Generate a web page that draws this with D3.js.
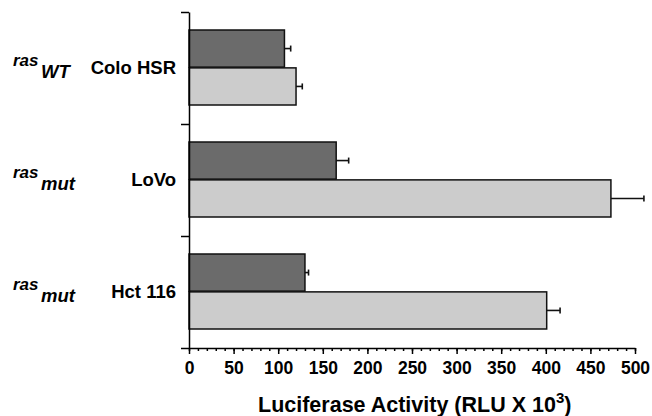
<!DOCTYPE html>
<html>
<head>
<meta charset="utf-8">
<script src="https://cdn.jsdelivr.net/npm/d3@7"></script>
<style>
  body { margin: 0; background: #fff; }
  svg { display: block; font-family: "Liberation Sans", Arial, sans-serif; font-weight: bold; }
</style>
</head>
<body>
<svg width="652" height="416"></svg>
<script>
// data
var cellLines = ["Colo HSR", "LoVo", "Hct 116"];
var rasStatus = ["WT", "mut", "mut"];
var darkValues = [107, 165, 130];
var darkErrors = [7, 14, 4];
var lightValues = [120, 473, 401];
var lightErrors = [7, 37, 15];
var xTicks = [0, 50, 100, 150, 200, 250, 300, 350, 400, 450, 500];

var svg = d3.select("svg");
var plotLeft = 189, plotRight = 635, plotTop = 12, plotBottom = 348;

var x = d3.scaleLinear().domain([0, 500]).range([plotLeft, plotRight]);
var y = d3.scaleBand().domain(cellLines).range([plotTop, plotBottom]);
// two bars inside each band
var sub = d3.scaleBand().domain(["dark", "light"]).range([18, 93]).paddingInner(0.02);

var color = { dark: "#6b6b6b", light: "#cccccc", stroke: "#111" };

// bars
var flat = [];
cellLines.forEach(function (c, i) {
  flat.push({ line: c, key: "dark", v: darkValues[i], e: darkErrors[i] });
  flat.push({ line: c, key: "light", v: lightValues[i], e: lightErrors[i] });
});

// error bars (drawn first so bars cover the start)
var eb = svg.append("g").attr("stroke", color.stroke).attr("stroke-width", 1.6);
flat.forEach(function (d) {
  var cy = y(d.line) + sub(d.key) + sub.bandwidth() / 2;
  eb.append("line").attr("x1", x(d.v)).attr("x2", x(d.v + d.e)).attr("y1", cy).attr("y2", cy);
  eb.append("line").attr("x1", x(d.v + d.e)).attr("x2", x(d.v + d.e)).attr("y1", cy - 3).attr("y2", cy + 3);
});

svg.append("g").selectAll("rect").data(flat).enter().append("rect")
  .attr("x", x(0))
  .attr("y", function (d) { return y(d.line) + sub(d.key); })
  .attr("width", function (d) { return x(d.v) - x(0); })
  .attr("height", sub.bandwidth())
  .attr("fill", function (d) { return color[d.key]; })
  .attr("stroke", color.stroke)
  .attr("stroke-width", 1.5);

// x axis: minor ticks then major ticks with labels
var xMinor = d3.axisBottom(x).tickValues(d3.range(0, 501, 10)).tickSize(3).tickFormat("");
var gMinor = svg.append("g").attr("transform", "translate(0," + plotBottom + ")").call(xMinor);
gMinor.select(".domain").remove();

var xAxis = d3.axisBottom(x).tickValues(xTicks).tickSize(6).tickPadding(8).tickSizeOuter(0);
var gx = svg.append("g").attr("transform", "translate(0," + plotBottom + ")").call(xAxis);
gx.attr("font-size", 17.5).attr("font-family", "Liberation Sans, Arial");
gx.selectAll("text").attr("font-weight", "bold").attr("fill", "#000");
svg.selectAll(".tick line, .domain").attr("stroke", "#000").attr("stroke-width", 1.5);

// left axis with ticks at band edges
var edges = d3.scaleLinear().domain([0, cellLines.length]).range([plotTop, plotBottom]);
var yAxis = d3.axisLeft(edges).tickValues([0, 1, 2, 3]).tickSize(8).tickFormat("").tickSizeOuter(0);
var gy = svg.append("g").attr("transform", "translate(" + plotLeft + ",0)").call(yAxis);
gy.selectAll("line, path").attr("stroke", "#000").attr("stroke-width", 1.5);

// category labels
cellLines.forEach(function (c, i) {
  var cy = y(c) + (sub.range()[0] + sub.range()[1]) / 2;
  svg.append("text").attr("x", 176).attr("y", cy + 6)
    .attr("text-anchor", "end").attr("font-size", 18.5).text(c);
  var t = svg.append("text").attr("x", 13).attr("y", cy - 2)
    .attr("font-size", 17).attr("font-style", "italic");
  t.append("tspan").text("ras");
  t.append("tspan").attr("x", 41).attr("y", cy + 10).attr("font-size", 18.5).text(rasStatus[i]);
});

// x title
var title = svg.append("text").attr("x", 258).attr("y", 412).attr("font-size", 21.5)
  .text("Luciferase Activity (RLU X 10");
title.append("tspan").attr("dy", -9).attr("font-size", 15).text("3");
title.append("tspan").attr("dy", 9).text(")");
</script>
</body>
</html>
